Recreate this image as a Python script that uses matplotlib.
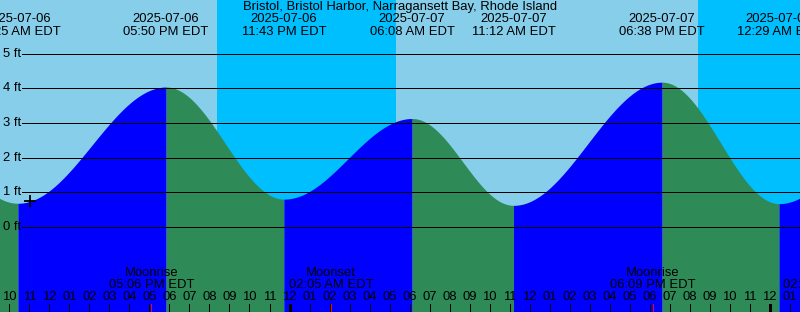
import matplotlib
matplotlib.use('Agg')
import matplotlib.pyplot as plt
import numpy as np

plt.rcParams['font.family'] = ['Liberation Sans', 'DejaVu Sans']

title = 'Bristol, Bristol Harbor, Narragansett Bay, Rhode Island'

# tide extremes (hours after 2025-07-06 00:00 EDT, feet)
tide_hours = [4.17, 10.42, 17.83, 23.72, 30.13, 35.20, 42.63, 48.48, 54.90]
tide_feet = [3.40, 0.68, 4.04, 0.80, 3.13, 0.62, 4.18, 0.67, 3.20]
tide_dates = ['2025-07-06', '2025-07-06', '2025-07-06', '2025-07-06', '2025-07-07',
              '2025-07-07', '2025-07-07', '2025-07-08', '2025-07-08']
tide_times = ['04:10 AM EDT', '10:25 AM EDT', '05:50 PM EDT', '11:43 PM EDT', '06:08 AM EDT',
              '11:12 AM EDT', '06:38 PM EDT', '12:29 AM EDT', '06:54 AM EDT']

# night (sunset -> sunrise)
night_start = [20.40, 44.40]
night_end = [29.30, 53.30]

# moon events
moon_hours = [17.10, 26.08, 42.15, 50.78]
moon_names = ['Moonrise', 'Moonset', 'Moonrise', 'Moonset']
moon_times = ['05:06 PM EDT', '02:05 AM EDT', '06:09 PM EDT', '02:47 AM EDT']

now_hour = 11.03
grid_feet = [0, 1, 2, 3, 4, 5]

W, H = 800, 312
px_hour = 20.0
px_ft = 34.6
x0 = 10 - 9.5 / px_hour
x1 = x0 + W / px_hour
ytop = 226.8 / px_ft
ybot = ytop - H / px_ft
FS = 9.35


def dx(px):
    return x0 + px / px_hour


def dy(py):
    return ytop - py / px_ft


def tide_at(t):
    i = np.searchsorted(tide_hours, t) - 1
    i = np.clip(i, 0, len(tide_hours) - 2)
    ta, tb = np.array(tide_hours)[i], np.array(tide_hours)[i + 1]
    ha, hb = np.array(tide_feet)[i], np.array(tide_feet)[i + 1]
    f = (1 - np.cos(np.pi * (t - ta) / (tb - ta))) / 2
    return ha + (hb - ha) * f


fig = plt.figure(figsize=(W / 100, H / 100), dpi=100)
ax = fig.add_axes([0, 0, 1, 1])
ax.set_xlim(x0, x1)
ax.set_ylim(ybot, ytop)
ax.axis('off')

# sky
ax.axvspan(x0, x1, color='#87CEEB', lw=0, zorder=0)
for a, b in zip(night_start, night_end):
    ax.axvspan(a, b, color='#00BFFF', lw=0, zorder=0)

# water, blue while rising and green while falling
for i in range(len(tide_hours) - 1):
    t = np.linspace(tide_hours[i], tide_hours[i + 1], 200)
    c = '#0000FF' if tide_feet[i + 1] > tide_feet[i] else '#2E8B57'
    ax.fill_between(t, ybot, tide_at(t), color=c, lw=0, zorder=1)

# depth lines and labels
for ft in grid_feet:
    ax.plot([dx(22), x1], [ft, ft], color='black', lw=0.72, antialiased=False, zorder=2)
    ax.text(dx(3), ft, f'{ft} ft', ha='left', va='center', fontsize=FS, zorder=3)

# current time marker
ax.plot([now_hour], [tide_at(np.array([now_hour]))[0]], marker='+', color='black',
        ms=9, mew=1.3, zorder=4)

# title and tide events
ax.text(dx(400), dy(7), title, ha='center', va='center', fontsize=FS)
for t, d, s in zip(tide_hours, tide_dates, tide_times):
    ax.text(t, dy(19), d, ha='center', va='center', fontsize=FS)
    ax.text(t, dy(32), s, ha='center', va='center', fontsize=FS)

# hour ticks
for h in range(10, 51):
    lab = '%02d' % ((h - 1) % 12 + 1)
    ax.text(h, dy(297.5), lab, ha='center', va='center', fontsize=FS, zorder=3)
    lw = 2.16 if h % 24 == 0 else 0.72
    ax.plot([h, h], [dy(304), dy(312)], color='black', lw=lw, solid_capstyle='butt',
            antialiased=False, zorder=3)

# moon events
for t, n, s in zip(moon_hours, moon_names, moon_times):
    ax.text(t, dy(273.5), n, ha='center', va='center', fontsize=FS, zorder=3)
    ax.text(t, dy(285.5), s, ha='center', va='center', fontsize=FS, zorder=3)
    ax.plot([t, t], [dy(304), dy(312)], color='red', lw=0.72, solid_capstyle='butt',
            antialiased=False, zorder=3)

fig.savefig('out.png', dpi=100)
